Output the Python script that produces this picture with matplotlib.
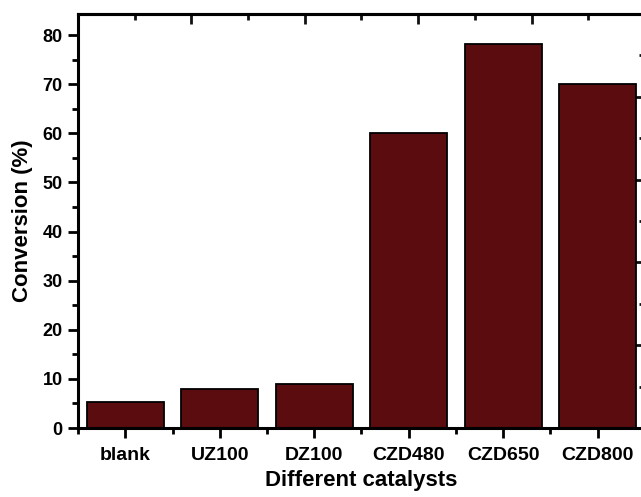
import numpy as np
import matplotlib
matplotlib.use("Agg")
import matplotlib.pyplot as plt
from matplotlib.ticker import MultipleLocator

catalysts = ["blank", "UZ100", "DZ100", "CZD480", "CZD650", "CZD800"]
conversion = [5.2, 8.0, 9.0, 60.0, 78.2, 70.0]

plt.rcParams['font.family'] = ['Liberation Sans', 'DejaVu Sans']
plt.rcParams['font.weight'] = 'bold'

rect = [0.1217, 0.1388, 0.8845, 0.833]
fig = plt.figure(figsize=(6.41, 4.97), dpi=100)
ax = fig.add_axes(rect)

x = np.arange(len(catalysts))
ax.bar(x, conversion, width=0.81, color='#5a0c0e', edgecolor='black', linewidth=1.3, zorder=2)

ax.set_xlim(-0.5, len(catalysts) - 0.5)
ax.set_ylim(0, 84.3)
ax.set_xticks(x)
ax.set_xticklabels(catalysts, fontsize=14, fontweight='bold')
ax.xaxis.set_minor_locator(MultipleLocator(1, offset=0.5))
ax.yaxis.set_major_locator(MultipleLocator(10))
ax.yaxis.set_minor_locator(MultipleLocator(5))
for lab in ax.get_yticklabels():
    lab.set_fontsize(13)
    lab.set_fontweight('bold')

ax.tick_params(which='major', direction='out', length=7, width=2, pad=4)
ax.tick_params(which='minor', direction='out', length=4, width=2)
ax.tick_params(axis='x', which='major', pad=7)
ax.tick_params(top=False, right=False, which='both')

for sp in ax.spines.values():
    sp.set_linewidth(2.2)

ax.set_xlabel("Different catalysts", fontsize=16, fontweight='bold', labelpad=4)
ax.set_ylabel("Conversion (%)", fontsize=16, fontweight='bold', labelpad=7)

# top axis: own scale of 5 major steps across the width
to_top = lambda v: (v + 0.5) * 5 / 6
from_top = lambda t: t * 6 / 5 - 0.5
sec_x = ax.secondary_xaxis('top', functions=(to_top, from_top))
sec_x.set_xticks(np.arange(0, 6))
sec_x.xaxis.set_minor_locator(MultipleLocator(0.5))
sec_x.tick_params(which='both', direction='in', width=2, labeltop=False, color='#111111')
sec_x.tick_params(which='major', length=7)
sec_x.tick_params(which='minor', length=4)
sec_x.spines['top'].set_linewidth(2.2)

# right axis: own scale of 5 major steps across the height
to_right = lambda v: v * 5 / 84.3
from_right = lambda r: r * 84.3 / 5
sec_y = ax.secondary_yaxis('right', functions=(to_right, from_right))
sec_y.set_yticks(np.arange(0, 6))
sec_y.yaxis.set_minor_locator(MultipleLocator(0.5))
sec_y.tick_params(which='both', direction='in', width=2, labelright=False, color='#111111')
sec_y.tick_params(which='major', length=7)
sec_y.tick_params(which='minor', length=4)
sec_y.spines['right'].set_linewidth(2.2)

fig.savefig("out.png", dpi=100)
